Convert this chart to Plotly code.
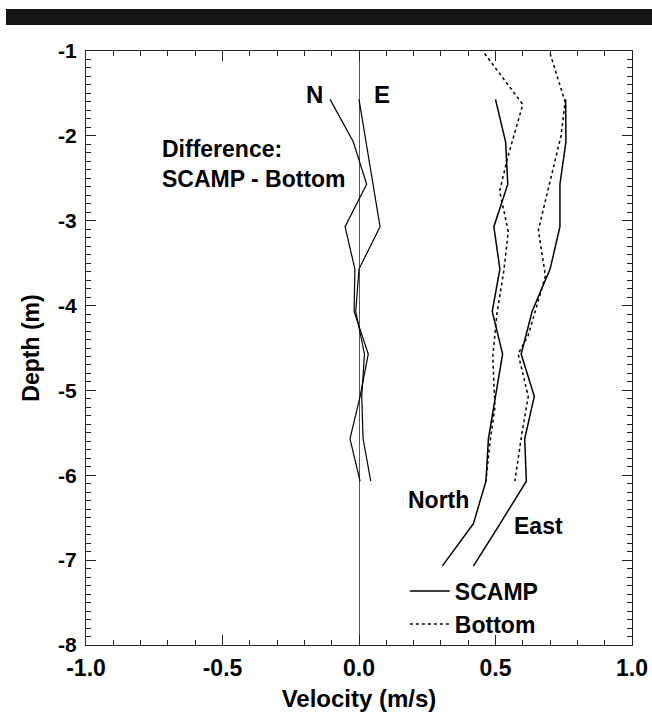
import plotly.graph_objects as go

# ---- data ----
scamp_depth = [-1.57, -2.07, -2.57, -3.07, -3.57, -4.07, -4.57, -5.07, -5.57, -6.07, -6.57, -7.07]
north_scamp = [0.50, 0.537, 0.545, 0.494, 0.516, 0.488, 0.526, 0.500, 0.474, 0.465, 0.419, 0.305]
east_scamp = [0.757, 0.758, 0.736, 0.736, 0.700, 0.634, 0.594, 0.642, 0.607, 0.613, 0.517, 0.419]

north_bottom_depth = [-1.03, -1.63, -2.25, -2.65, -3.13, -3.60, -4.10, -4.60, -5.20, -5.60, -6.07]
north_bottom = [0.46, 0.60, 0.545, 0.515, 0.547, 0.530, 0.505, 0.490, 0.498, 0.480, 0.465]

east_bottom_depth = [-1.03, -1.60, -2.00, -2.52, -3.11, -3.65, -3.95, -4.35, -4.57, -5.07, -5.50, -6.07]
east_bottom = [0.70, 0.755, 0.740, 0.700, 0.657, 0.683, 0.656, 0.620, 0.583, 0.620, 0.597, 0.571]

diff_depth = [-1.57, -2.07, -2.57, -3.07, -3.57, -4.07, -4.57, -5.07, -5.57, -6.07]
north_diff = [-0.106, -0.021, 0.028, -0.051, -0.015, -0.018, 0.034, 0.004, -0.033, 0.004]
east_diff = [0.0, 0.025, 0.050, 0.077, 0.0, -0.012, 0.020, 0.010, 0.015, 0.043]

x_tickvals = [-1.0, -0.5, 0.0, 0.5, 1.0]
x_ticktext = ["-1.0", "-0.5", "0.0", "0.5", "1.0"]
y_tickvals = [-1, -2, -3, -4, -5, -6, -7, -8]
y_ticktext = ["-1", "-2", "-3", "-4", "-5", "-6", "-7", "-8"]

FONT = "Liberation Sans"
BOLD = dict(family=FONT, color="black", weight="bold")

fig = go.Figure()
solid = dict(color="black", width=1.5)
dotted = dict(color="black", width=1.5, dash="3px,3px")

fig.add_trace(go.Scatter(x=north_scamp, y=scamp_depth, mode="lines", line=solid,
                         name="SCAMP", legendrank=1))
fig.add_trace(go.Scatter(x=east_scamp, y=scamp_depth, mode="lines", line=solid,
                         showlegend=False))
fig.add_trace(go.Scatter(x=north_bottom, y=north_bottom_depth, mode="lines", line=dotted,
                         name="Bottom", legendrank=2))
fig.add_trace(go.Scatter(x=east_bottom, y=east_bottom_depth, mode="lines", line=dotted,
                         showlegend=False))
fig.add_trace(go.Scatter(x=north_diff, y=diff_depth, mode="lines",
                         line=dict(color="black", width=1.2), showlegend=False))
fig.add_trace(go.Scatter(x=east_diff, y=diff_depth, mode="lines",
                         line=dict(color="black", width=1.2), showlegend=False))

axis_common = dict(
    showgrid=False, showline=True, linecolor="#222", linewidth=1, mirror="allticks",
    ticks="inside", ticklen=10, tickcolor="#222", tickwidth=1,
)

fig.update_xaxes(
    range=[-1, 1], tickvals=x_tickvals, ticktext=x_ticktext,
    tickfont=dict(size=23, **BOLD), ticklabelstandoff=2,
    minor=dict(dtick=0.1, ticks="inside", ticklen=5, tickcolor="#222"),
    zeroline=True, zerolinecolor="#555", zerolinewidth=1,
    title=dict(text="Velocity (m/s)", font=dict(size=24, **BOLD), standoff=10),
    automargin=False, **axis_common,
)
fig.update_yaxes(
    range=[-8, -1], tickvals=y_tickvals, ticktext=y_ticktext,
    tickfont=dict(size=21, **BOLD), ticklabelstandoff=4,
    minor=dict(dtick=0.1, ticks="inside", ticklen=5, tickcolor="#222"),
    zeroline=False,
    title=dict(text="Depth (m)", font=dict(size=23, **BOLD), standoff=12),
    automargin=False, **axis_common,
)

annots = [
    dict(x=-0.162, y=-1.51, text="N", xanchor="center", yanchor="middle", size=24),
    dict(x=0.084, y=-1.51, text="E", xanchor="center", yanchor="middle", size=24),
    dict(x=-0.04, y=-2.33, text="Difference:<br>SCAMP - Bottom", xanchor="right",
         yanchor="middle", size=23, align="left"),
    dict(x=0.41, y=-6.29, text="North", xanchor="right", yanchor="middle", size=23),
    dict(x=0.559, y=-6.595, text="East", xanchor="left", yanchor="middle", size=23),
]
for a in annots:
    size = a.pop("size")
    fig.add_annotation(xref="x", yref="y", showarrow=False,
                       font=dict(size=size, **BOLD), **a)

# black bar at the top of the page
fig.add_shape(type="rect", xref="paper", yref="paper", x0=-0.1465, x1=1.04,
              y0=1.0438, y1=1.0707, fillcolor="#151515", line=dict(width=0), layer="above")

fig.update_layout(
    width=652, height=714,
    margin=dict(l=86, r=20, t=51, b=69),
    paper_bgcolor="white", plot_bgcolor="white",
    showlegend=True,
    legend=dict(x=0.584, y=0.127, xanchor="left", yanchor="top",
                bgcolor="rgba(0,0,0,0)", font=dict(size=23, **BOLD),
                tracegroupgap=0, itemwidth=40),
)

# remove the default page margin so the figure fills the window exactly
fig.write_html(
    "out.html",
    config={"displayModeBar": False},
    post_script="document.body.style.margin='0';document.body.style.overflow='hidden';",
)
